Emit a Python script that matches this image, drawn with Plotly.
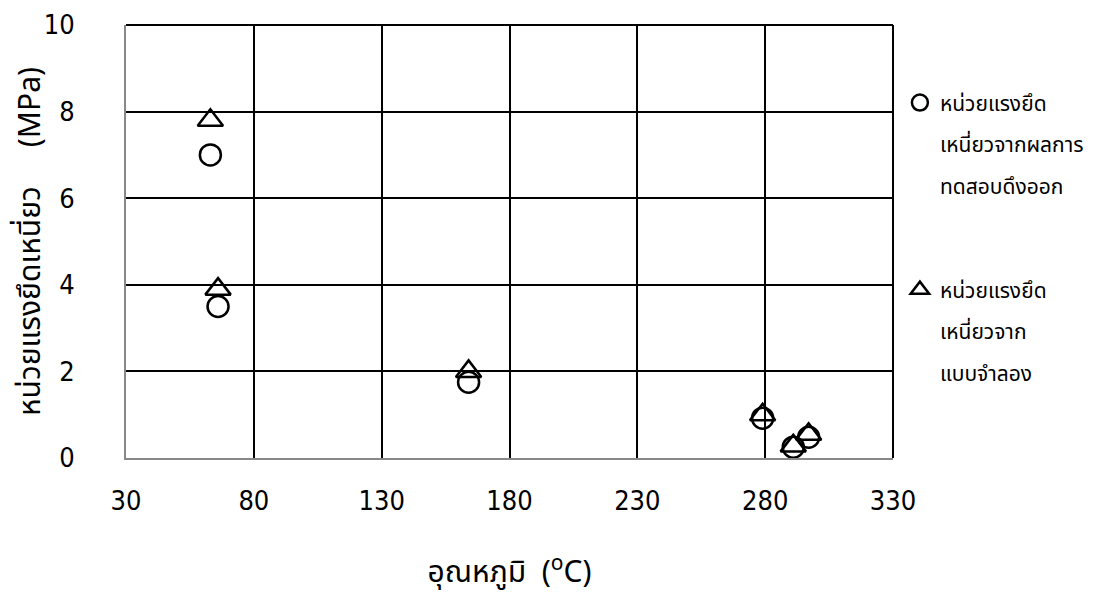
import plotly.graph_objects as go

# Data
temp_test = [63, 66, 164, 279, 291, 297]
stress_test = [7.0, 3.5, 1.75, 0.92, 0.25, 0.48]
temp_model = [63, 66, 164, 279, 291, 297]
stress_model = [7.8, 3.9, 2.0, 1.0, 0.28, 0.55]
x_ticks = [30, 80, 130, 180, 230, 280, 330]
y_ticks = [0, 2, 4, 6, 8, 10]
name_test = ["หน่วยแรงยึด", "เหนี่ยวจากผลการ", "ทดสอบดึงออก"]
name_model = ["หน่วยแรงยึด", "เหนี่ยวจาก", "แบบจำลอง"]

THAI = "Noto Sans Thai, Noto Sans, Loma, Garuda, DejaVu Sans, sans-serif"
NUM = "Liberation Sans Narrow, DejaVu Sans Condensed, Liberation Sans, sans-serif"
LEG_SIZE = 21

fig = go.Figure()
fig.add_trace(go.Scatter(
    x=temp_test, y=stress_test, mode="markers", name=name_test[0],
    legend="legend",
    marker=dict(symbol="circle-open", size=21, color="black", line=dict(width=2.5, color="black")),
))
fig.add_trace(go.Scatter(
    x=temp_model, y=stress_model, mode="markers", name=name_model[0],
    legend="legend2",
    marker=dict(symbol="triangle-up-open", size=22, color="black", line=dict(width=2.5, color="black")),
))

ann = []
for i, t in enumerate(name_test[1:]):
    ann.append(dict(text=t, xref="paper", yref="paper", x=1.059, y=0.7206 - 0.097 * i,
                    xanchor="left", yanchor="middle", showarrow=False,
                    font=dict(family=THAI, size=LEG_SIZE, color="black")))
for i, t in enumerate(name_model[1:]):
    ann.append(dict(text=t, xref="paper", yref="paper", x=1.059, y=0.2887 - 0.097 * i,
                    xanchor="left", yanchor="middle", showarrow=False,
                    font=dict(family=THAI, size=LEG_SIZE, color="black")))

leg_common = dict(xanchor="left", yanchor="middle", itemwidth=30,
                  font=dict(family=THAI, size=LEG_SIZE, color="black"),
                  bgcolor="rgba(0,0,0,0)")

fig.update_layout(
    width=1095, height=599,
    margin=dict(l=118, r=210, t=17, b=149, autoexpand=False),
    paper_bgcolor="white", plot_bgcolor="white",
    showlegend=True,
    legend=dict(x=1.009, y=0.82, **leg_common),
    legend2=dict(x=1.009, y=0.388, **leg_common),
    annotations=ann,
    xaxis=dict(range=[30, 330], tickvals=x_ticks, showgrid=True, gridcolor="black", gridwidth=1.5,
               showline=True, linecolor="#888888", linewidth=2, zeroline=False,
               ticks="", ticklabelstandoff=18, automargin=False,
               tickfont=dict(family=NUM, size=27, color="black"),
               title=dict(text="อุณหภูมิ  (<sup>o</sup>C)", standoff=46,
                          font=dict(family=THAI, size=30, color="black"))),
    yaxis=dict(range=[0, 10], tickvals=y_ticks, showgrid=True, gridcolor="black", gridwidth=1.5,
               showline=True, linecolor="#888888", linewidth=2, zeroline=False,
               ticks="", ticklabelstandoff=44, automargin=False,
               tickfont=dict(family=NUM, size=27, color="black"),
               title=dict(text="หน่วยแรงยึดเหนี่ยว     (MPa)", standoff=26,
                          font=dict(family=THAI, size=30, color="black"))),
    shapes=[
        dict(type="line", xref="x domain", yref="y domain", x0=0, x1=1, y0=1, y1=1,
             line=dict(color="black", width=2)),
        dict(type="line", xref="x domain", yref="y domain", x0=1, x1=1, y0=0, y1=1,
             line=dict(color="black", width=2)),
    ],
)
fig.write_html("out.html")
